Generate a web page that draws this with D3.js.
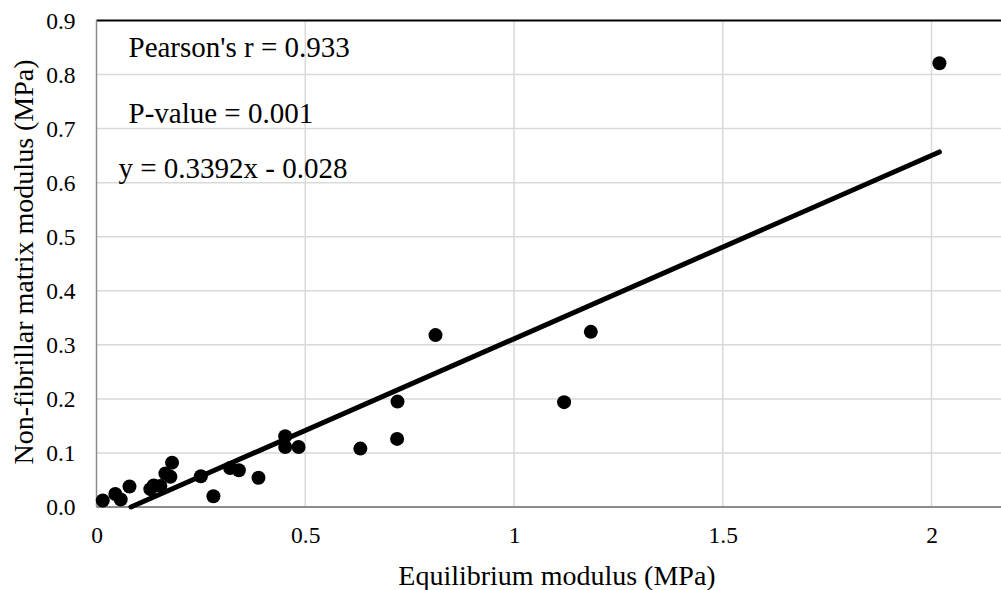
<!DOCTYPE html>
<html>
<head>
<meta charset="utf-8">
<script src="https://cdn.jsdelivr.net/npm/d3@7"></script>
<style>
  body { margin: 0; background: #fff; }
  svg { display: block; font-family: "Liberation Serif", "Times New Roman", serif; }
</style>
</head>
<body>
<div id="chart-area"></div>
<script>
const chartSize = { width: 1001, height: 590 };
const margin = { left: 96.5, right: -14, top: 20.5, bottom: 83 };
const width = chartSize.width - margin.left - margin.right;
const height = chartSize.height - margin.top - margin.bottom;
const serif = '"Liberation Serif", "Times New Roman", serif';

// equilibrium modulus (x) vs non-fibrillar matrix modulus (y), MPa
const eqModulus = [0.015, 0.045, 0.058, 0.079, 0.129, 0.137, 0.153, 0.165, 0.177, 0.181,
    0.250, 0.280, 0.320, 0.341, 0.388, 0.452, 0.452, 0.484, 0.632, 0.720,
    0.721, 0.812, 1.120, 1.184, 2.019];
const nfModulus = [0.012, 0.024, 0.014, 0.038, 0.033, 0.040, 0.039, 0.062, 0.056, 0.082,
    0.057, 0.020, 0.072, 0.068, 0.054, 0.131, 0.111, 0.111, 0.108, 0.126,
    0.195, 0.318, 0.194, 0.324, 0.821];
const fit = { slope: 0.3392, intercept: -0.028, xEnd: 2.019 };
const xTicks = [0, 0.5, 1, 1.5, 2];
const yTicks = [0, 0.1, 0.2, 0.3, 0.4, 0.5, 0.6, 0.7, 0.8, 0.9];
const notes = ["Pearson's r = 0.933", "P-value = 0.001", "y = 0.3392x - 0.028"];

const svg = d3.select("#chart-area")
    .append("svg")
    .attr("width", chartSize.width)
    .attr("height", chartSize.height);

const x = d3.scaleLinear().domain([0, 2.2]).range([0, width]);
const y = d3.scaleLinear().domain([0, 0.9]).range([height, 0]);

const g = svg.append("g").attr("transform", `translate(${margin.left},${margin.top})`);

// gridlines
g.append("g").selectAll("line").data(xTicks.slice(1)).join("line")
    .attr("x1", d => x(d)).attr("x2", d => x(d))
    .attr("y1", 0).attr("y2", height)
    .attr("stroke", "#d9d9d9").attr("stroke-width", 1.5);
g.append("g").selectAll("line").data(yTicks.slice(1, -1)).join("line")
    .attr("x1", 0).attr("x2", width)
    .attr("y1", d => y(d)).attr("y2", d => y(d))
    .attr("stroke", "#d9d9d9").attr("stroke-width", 1.5);

// frame
g.append("line").attr("x1", 0).attr("x2", width).attr("y1", 0).attr("y2", 0)
    .attr("stroke", "#000").attr("stroke-width", 2.2);
g.append("line").attr("x1", 0).attr("x2", 0).attr("y1", 0).attr("y2", height)
    .attr("stroke", "#8c8c8c").attr("stroke-width", 1.5);
g.append("line").attr("x1", 0).attr("x2", width).attr("y1", height).attr("y2", height)
    .attr("stroke", "#8c8c8c").attr("stroke-width", 2);

// axes (labels only)
const styleAxis = a => {
    a.select(".domain").remove();
    a.attr("font-family", serif).attr("font-size", 23.5);
    a.selectAll("text").attr("fill", "#000").style("font-family", serif).style("font-size", "23.5px");
};
const xAxis = d3.axisBottom(x).tickValues(xTicks).tickFormat(d3.format("")).tickSize(0).tickPadding(19);
g.append("g").attr("class", "x-axis").attr("transform", `translate(0,${height})`).call(xAxis)
    .call(styleAxis);
const yAxis = d3.axisLeft(y).tickValues(yTicks).tickFormat(d3.format(".1f")).tickSize(0).tickPadding(21);
g.append("g").attr("class", "y-axis").call(yAxis)
    .call(styleAxis);

// regression line
const x0 = -fit.intercept / fit.slope;
g.append("line")
    .attr("x1", x(x0)).attr("y1", y(0))
    .attr("x2", x(fit.xEnd)).attr("y2", y(fit.slope * fit.xEnd + fit.intercept))
    .attr("stroke", "#000").attr("stroke-width", 5).attr("stroke-linecap", "round");

// points
g.append("g").selectAll("circle").data(eqModulus).join("circle")
    .attr("cx", d => x(d))
    .attr("cy", (d, i) => y(nfModulus[i]))
    .attr("r", 7)
    .attr("fill", "#000");

// annotations
const notePos = [[32, 36], [32, 102.5], [22, 157.5]];
g.selectAll(".note").data(notes).join("text")
    .attr("class", "note")
    .attr("x", (d, i) => notePos[i][0])
    .attr("y", (d, i) => notePos[i][1])
    .attr("font-size", 29)
    .text(d => d);

// axis titles
svg.append("text")
    .attr("x", 557).attr("y", 585)
    .attr("text-anchor", "middle").attr("font-size", 28)
    .text("Equilibrium modulus (MPa)");
svg.append("text")
    .attr("transform", "rotate(-90)")
    .attr("x", -262).attr("y", 33)
    .attr("text-anchor", "middle").attr("font-size", 28)
    .text("Non-fibrillar matrix modulus (MPa)");
</script>
</body>
</html>
